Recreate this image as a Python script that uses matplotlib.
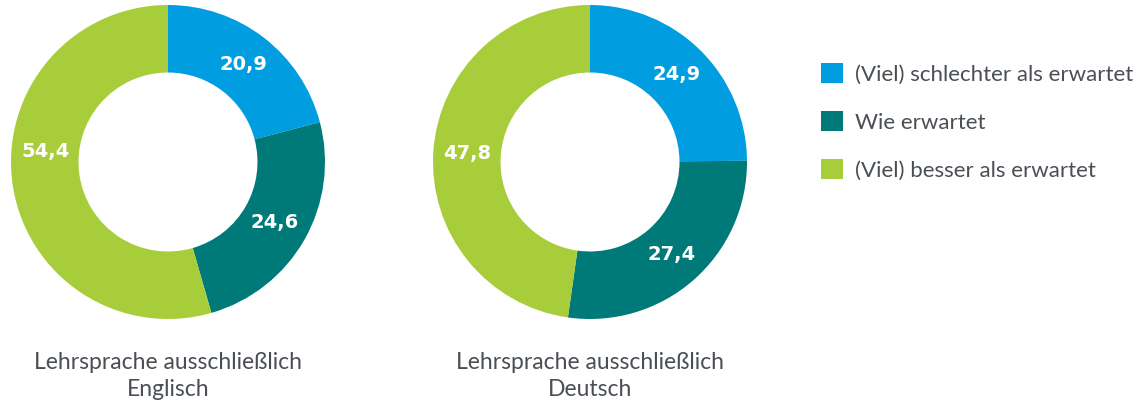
import matplotlib
matplotlib.use('Agg')
import matplotlib.pyplot as plt
import numpy as np
from matplotlib.patches import Patch

plt.rcParams['font.family'] = ['Lato', 'DejaVu Sans']

categories = ["(Viel) schlechter als erwartet", "Wie erwartet", "(Viel) besser als erwartet"]
englisch = [20.9, 24.6, 54.4]
deutsch = [24.9, 27.4, 47.8]
titles = ["Lehrsprache ausschließlich\nEnglisch", "Lehrsprache ausschließlich\nDeutsch"]
colors = ['#009ee0', '#007a78', '#a8cd3a']
text_grey = '#4a4f55'

W, H = 1140, 404
fig = plt.figure(figsize=(W / 100, H / 100), dpi=100)

def donut(cx, cy, r, values, title, angle_fix=None):
    ax = fig.add_axes([(cx - r) / W, (H - cy - r) / H, 2 * r / W, 2 * r / H])
    wedges, texts = ax.pie(values, colors=colors, startangle=90, counterclock=False,
                           radius=1.0, wedgeprops=dict(width=0.43, linewidth=0))
    for i, (w, v) in enumerate(zip(wedges, values)):
        ang = (w.theta1 + w.theta2) / 2
        if angle_fix and i in angle_fix:
            ang = angle_fix[i]
        ang = np.deg2rad(ang)
        rr = 0.785
        ax.text(rr * np.cos(ang), rr * np.sin(ang), f"{v:.1f}".replace('.', ','),
                ha='center', va='center', color='white', fontsize=14,
                fontweight='bold', family='DejaVu Sans')
    ax.set_xlim(-1, 1)
    ax.set_ylim(-1, 1)
    ax.set_aspect('equal')
    ax.axis('off')
    fig.text(cx / W, 1 - 376 / H, title, ha='center', va='center',
             fontsize=16.5, color=text_grey, linespacing=1.3)

donut(168, 162, 157, englisch, titles[0], angle_fix={2: 175})
donut(590, 162, 157, deutsch, titles[1])

handles = [Patch(facecolor=c, edgecolor='none') for c in colors]
fig.legend(handles, categories, loc='upper left', bbox_to_anchor=(821 / W, 1 - 63 / H),
           frameon=False, fontsize=16, labelcolor=text_grey,
           handlelength=1.0, handleheight=1.0, handletextpad=0.55, labelspacing=1.2,
           borderaxespad=0, borderpad=0)

plt.savefig('out.png', dpi=100)
